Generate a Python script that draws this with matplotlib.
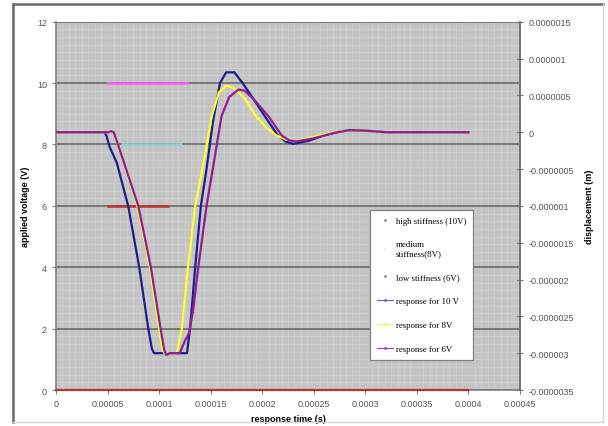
import matplotlib
matplotlib.use('Agg')
import matplotlib.pyplot as plt
from matplotlib.lines import Line2D
import numpy as np

plt.rcParams['font.family'] = ['Liberation Sans', 'DejaVu Sans']

# ---- data (time in s, voltage in V, displacement in micrometres) ----
x_ticks = [0, 0.00005, 0.0001, 0.00015, 0.0002, 0.00025, 0.0003, 0.00035, 0.0004, 0.00045]
x_tick_labels = ['0', '0.00005', '0.0001', '0.00015', '0.0002', '0.00025',
                 '0.0003', '0.00035', '0.0004', '0.00045']
v_ticks = [0, 2, 4, 6, 8, 10, 12]
d_ticks = [1.5e-6, 1e-6, 5e-7, 0, -5e-7, -1e-6, -1.5e-6, -2e-6, -2.5e-6, -3e-6, -3.5e-6]
d_tick_labels = ['0.0000015', '0.000001', '0.0000005', '0', '-0.0000005', '-0.000001',
                 '-0.0000015', '-0.000002', '-0.0000025', '-0.000003', '-0.0000035']

# stiffness levels (voltage steps)
high_t = [0.00005, 0.000127]
high_v = [10, 10]
med_t = [0.000064, 0.000121]
med_v = [8, 8]
low_t = [0.00005, 0.000109]
low_v = [6, 6]
base_t = [0, 0.0004]
base_v = [0, 0]

# responses, time in units of 1e-5 s, displacement in um
t10 = [0, 4.7, 4.9, 5.2, 5.9, 7.0, 8.07, 8.95, 9.3, 9.5, 12.7, 13.0, 13.5, 14.05, 14.6,
       15.2, 15.9, 16.5, 17.3, 18.1, 19.2, 20.25, 21.5, 22.3, 23.0, 24.5, 25.9, 27.2,
       28.5, 30, 32, 40]
d10 = [0, 0, -0.05, -0.2, -0.417, -1.0, -1.833, -2.667, -2.94, -3.0, -3.0, -2.667,
       -1.833, -1.0, -0.5, 0.125, 0.667, 0.8125, 0.8125, 0.667, 0.44, 0.217, -0.042,
       -0.13, -0.158, -0.117, -0.046, 0.0, 0.029, 0.021, 0, 0]

t8 = [0, 5.1, 5.35, 5.6, 5.9, 6.8, 7.9, 9.1, 10.0, 10.3, 10.5, 11.7, 12.2, 12.8, 13.5,
      14.2, 15.1, 15.8, 16.5, 17.2, 18.3, 19.4, 20.4, 21.4, 22.3, 23.3, 25.0, 27, 28.5,
      30, 32, 40]
d8 = [0, 0, 0.012, 0.0, -0.12, -0.5, -1.0, -1.833, -2.667, -2.94, -3.0, -3.0, -2.667,
      -1.833, -1.0, -0.5, 0.217, 0.542, 0.633, 0.604, 0.458, 0.217, 0.06, -0.046, -0.1,
      -0.121, -0.062, 0, 0.029, 0.021, 0, 0]

t6 = [0, 5.1, 5.35, 5.6, 5.9, 6.8, 7.98, 9.2, 10.14, 10.5, 10.7, 11.0, 12.0, 12.5, 12.9,
      13.3, 13.8, 14.6, 15.2, 16.05, 16.8, 17.7, 18.3, 19.1, 20.6, 21.9, 22.6, 23.3, 25,
      27, 28.5, 30, 32, 40]
d6 = [0, 0, 0.015, 0.0, -0.12, -0.5, -1.0, -1.833, -2.667, -2.958, -3.025, -3.0, -3.0,
      -2.833, -2.729, -2.417, -1.833, -1.0, -0.504, 0.217, 0.479, 0.579, 0.563, 0.458,
      0.217, -0.046, -0.11, -0.125, -0.083, -0.008, 0.029, 0.021, 0, 0]

# colours
c_high = '#ff5cff'
c_med = '#8ed4d8'
c_low = '#b83232'
c_10 = '#1e1e8c'
c_8 = '#ffff30'
c_6 = '#921c92'

fig = plt.figure(figsize=(6.08, 4.27), dpi=100)
ax = fig.add_axes([0.0921, 0.0843, 0.7632, 0.8625])
ax.set_facecolor('#c4c4c4')

# faint plaid texture + major gridlines
ax.set_xticks(np.arange(0, 0.00045, 0.00005 / 8), minor=True)
ax.set_yticks(np.arange(0, 12, 0.25), minor=True)
ax.grid(which='minor', color='#d2d2d2', lw=0.5)
ax.grid(which='major', axis='y', color='#6a6a6a', lw=1.2)
ax.tick_params(which='minor', length=0)
ax.set_axisbelow(True)

ax.plot(high_t, high_v, color=c_high, lw=1.8, zorder=3)
ax.plot(med_t, med_v, color=c_med, lw=1.8, zorder=3)
ax.plot(low_t, low_v, color=c_low, lw=1.8, zorder=3)

ax.set_xlim(0, 0.00045)
ax.set_ylim(0, 12)
ax.set_xticks(x_ticks)
ax.set_xticklabels(x_tick_labels)
ax.set_yticks(v_ticks)
ax.tick_params(axis='both', which='major', labelsize=6.5, labelcolor='#555555',
               color='#808080', length=3, width=0.8)
ax.set_xlabel('response time (s)', fontsize=6.5, fontweight='bold', labelpad=4)
ax.set_ylabel('applied voltage (V)', fontsize=6.5, fontweight='bold', labelpad=5)

ax.spines['top'].set_visible(False)
for s in ['left', 'bottom', 'right']:
    ax.spines[s].set_color('#808080')
    ax.spines[s].set_linewidth(1.2)

ax2 = ax.twinx()
ax2.plot(np.array(t10) * 1e-5, np.array(d10) * 1e-6, color=c_10, lw=1.6)
ax2.plot(np.array(t8) * 1e-5, np.array(d8) * 1e-6, color=c_8, lw=1.6)
ax2.plot(np.array(t6) * 1e-5, np.array(d6) * 1e-6, color=c_6, lw=1.6)
ax2.set_ylim(-3.5e-6, 1.5e-6)
ax2.set_yticks(d_ticks)
ax2.set_yticklabels(d_tick_labels)
ax2.tick_params(axis='y', labelsize=6.5, labelcolor='#555555', color='#707070',
                direction='inout', length=5, width=0.8)
ax2.set_ylabel('displacement (m)', fontsize=6.5, fontweight='bold', rotation=90, labelpad=8)
ax2.spines['top'].set_visible(False)
ax2.spines['bottom'].set_visible(False)
ax2.spines['left'].set_visible(False)
ax2.spines['right'].set_color('#707070')
ax2.spines['right'].set_linewidth(1.2)

# drive line along the zero level, drawn over the spine
ax2.plot(base_t, np.array(base_v) - 3.5e-6, color=c_low, lw=1.6, zorder=4, clip_on=False)

handles = [
    Line2D([], [], ls='none', marker='.', ms=2, color='#909090'),
    Line2D([], [], ls='none', marker='.', ms=2, color='#f0f0f0'),
    Line2D([], [], ls='none', marker='.', ms=2, color='#909090'),
    Line2D([], [], color='#6060b0', lw=0.8, marker='.', ms=2),
    Line2D([], [], color='#f0f060', lw=0.8, marker='.', ms=2),
    Line2D([], [], color='#a040a0', lw=0.8, marker='.', ms=2),
]
labels = ['high stiffness (10V)', 'medium\nstiffness(8V)', 'low stiffness (6V)',
          'response for 10 V', 'response for 8V', 'response for 6V']
leg = ax2.legend(handles, labels, loc='upper left', bbox_to_anchor=(0.677, 0.489),
                 borderaxespad=0, fancybox=False, framealpha=1, edgecolor='#808080',
                 prop={'family': 'Liberation Serif', 'size': 6.3},
                 handlelength=1.9, handletextpad=0.3, labelspacing=1.8,
                 borderpad=0.75)
leg.get_frame().set_linewidth(0.9)
leg.set_zorder(6)

# chart area border
fig.add_artist(Line2D([0.0214, 0.9918], [0.989, 0.989], color='#6b6b6b', lw=1.8))
fig.add_artist(Line2D([0.0214, 0.0214], [0.0094, 0.989], color='#6b6b6b', lw=1.8))
fig.add_artist(Line2D([0.9918, 0.9918], [0.0094, 0.989], color='#d8d8d8', lw=1))
fig.add_artist(Line2D([0.0214, 0.9918], [0.0094, 0.0094], color='#d8d8d8', lw=1))

fig.savefig('out.png', dpi=100, facecolor='white')
